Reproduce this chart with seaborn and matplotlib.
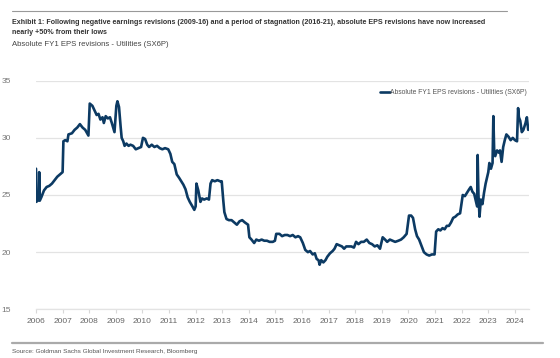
import matplotlib
matplotlib.use("Agg")
import matplotlib.pyplot as plt
import seaborn as sns
import pandas as pd
from matplotlib.lines import Line2D

years = [2006.00, 2006.01, 2006.06, 2006.10, 2006.12, 2006.14, 2006.20, 2006.30, 2006.40, 2006.50,
         2006.60, 2006.70, 2006.80, 2006.95, 2007.00, 2007.03, 2007.10, 2007.18, 2007.22, 2007.35,
         2007.45, 2007.55, 2007.65, 2007.75, 2007.85, 2007.97, 2008.02, 2008.12, 2008.20, 2008.28,
         2008.35, 2008.42, 2008.50, 2008.55, 2008.62, 2008.70, 2008.78, 2008.85, 2008.95, 2009.02,
         2009.06, 2009.12, 2009.18, 2009.22, 2009.28, 2009.33, 2009.40, 2009.48, 2009.55, 2009.65,
         2009.75, 2009.85, 2009.95, 2010.02, 2010.10, 2010.18, 2010.25, 2010.35, 2010.45, 2010.55,
         2010.65, 2010.75, 2010.85, 2010.97, 2011.05, 2011.12, 2011.20, 2011.29, 2011.38, 2011.46,
         2011.54, 2011.62, 2011.70, 2011.78, 2011.88, 2011.95, 2012.00, 2012.03, 2012.10, 2012.18,
         2012.24, 2012.32, 2012.42, 2012.50, 2012.56, 2012.62, 2012.72, 2012.82, 2012.92, 2012.98,
         2013.04, 2013.08, 2013.16, 2013.25, 2013.35, 2013.45, 2013.55, 2013.65, 2013.75, 2013.85,
         2013.97, 2014.02, 2014.10, 2014.20, 2014.28, 2014.38, 2014.48, 2014.58, 2014.68, 2014.78,
         2014.90, 2014.98, 2015.03, 2015.15, 2015.25, 2015.35, 2015.45, 2015.55, 2015.65, 2015.75,
         2015.85, 2015.93, 2016.03, 2016.12, 2016.22, 2016.30, 2016.40, 2016.48, 2016.55, 2016.62,
         2016.66, 2016.72, 2016.80, 2016.88, 2016.95, 2017.05, 2017.15, 2017.22, 2017.30, 2017.40,
         2017.50, 2017.58, 2017.66, 2017.75, 2017.85, 2017.95, 2018.03, 2018.12, 2018.22, 2018.32,
         2018.43, 2018.53, 2018.63, 2018.73, 2018.83, 2018.93, 2019.03, 2019.12, 2019.20, 2019.30,
         2019.40, 2019.50, 2019.62, 2019.72, 2019.82, 2019.93, 2020.02, 2020.10, 2020.17, 2020.25,
         2020.32, 2020.40, 2020.50, 2020.58, 2020.68, 2020.78, 2020.88, 2020.98, 2021.04, 2021.12,
         2021.20, 2021.28, 2021.36, 2021.44, 2021.52, 2021.60, 2021.68, 2021.76, 2021.85, 2021.94,
         2022.04, 2022.12, 2022.20, 2022.28, 2022.34, 2022.40, 2022.47, 2022.53, 2022.58, 2022.60,
         2022.63, 2022.67, 2022.72, 2022.78, 2022.84, 2022.90, 2022.95, 2023.00, 2023.04, 2023.10,
         2023.16, 2023.19, 2023.22, 2023.26, 2023.33, 2023.40, 2023.44, 2023.50, 2023.56, 2023.62,
         2023.68, 2023.76, 2023.84, 2023.92, 2024.00, 2024.08, 2024.12, 2024.15, 2024.20, 2024.26,
         2024.32, 2024.40, 2024.45, 2024.50]

eps_revisions = [27.3, 24.4, 24.5, 24.6, 27.0, 24.5, 24.8, 25.4, 25.7, 25.8,
                 26.0, 26.3, 26.6, 26.9, 27.0, 29.7, 29.8, 29.7, 30.3, 30.4,
                 30.7, 30.9, 31.2, 30.9, 30.7, 30.2, 33.0, 32.8, 32.4, 32.0,
                 32.1, 31.6, 31.8, 31.3, 31.9, 31.7, 31.8, 31.3, 30.5, 32.8,
                 33.2, 32.7, 31.0, 30.0, 29.7, 29.3, 29.5, 29.3, 29.4, 29.3,
                 29.0, 29.1, 29.2, 30.0, 29.9, 29.4, 29.2, 29.4, 29.2, 29.3,
                 29.1, 29.0, 29.1, 29.0, 28.6, 27.9, 27.7, 26.8, 26.5, 26.2,
                 25.9, 25.5, 24.8, 24.4, 24.0, 23.7, 24.0, 26.0, 25.4, 24.4,
                 24.7, 24.6, 24.7, 24.6, 26.0, 26.3, 26.2, 26.3, 26.2, 26.2,
                 24.5, 23.5, 22.9, 22.8, 22.8, 22.6, 22.4, 22.7, 22.8, 22.6,
                 22.4, 21.3, 21.1, 20.8, 21.1, 21.0, 21.1, 21.0, 21.0, 20.9,
                 20.9, 21.0, 21.6, 21.6, 21.4, 21.5, 21.5, 21.4, 21.5, 21.3,
                 21.4, 21.3, 20.8, 20.2, 20.0, 20.1, 19.8, 19.9, 19.4, 19.3,
                 18.9, 19.3, 19.1, 19.3, 19.6, 19.9, 20.1, 20.3, 20.7, 20.6,
                 20.5, 20.3, 20.5, 20.5, 20.5, 20.4, 20.9, 20.7, 20.9, 20.9,
                 21.1, 20.8, 20.7, 20.5, 20.6, 20.3, 21.3, 21.1, 20.9, 21.1,
                 21.0, 20.9, 21.0, 21.1, 21.3, 21.6, 23.2, 23.2, 23.0, 22.0,
                 21.4, 21.1, 20.5, 20.0, 19.8, 19.7, 19.8, 19.8, 21.8, 22.0,
                 21.9, 22.1, 22.0, 22.3, 22.3, 22.6, 23.0, 23.1, 23.3, 23.4,
                 25.0, 24.9, 25.2, 25.5, 25.7, 25.3, 25.1, 24.5, 24.0, 28.5,
                 25.0, 23.1, 24.6, 24.2, 25.2, 26.0, 26.5, 27.0, 27.8, 27.3,
                 27.8, 31.9, 29.0, 28.4, 28.9, 28.7, 28.9, 27.9, 29.2, 29.8,
                 30.3, 30.1, 29.8, 30.0, 29.8, 29.7, 32.6, 31.8, 31.5, 30.5,
                 30.7, 31.3, 31.8, 30.7]

year_ticks = list(range(2006, 2025))
y_ticks = [15, 20, 25, 30, 35]

series_name = "Absolute FY1 EPS revisions - Utilities (SX6P)"
title_line1 = ("Exhibit 1: Following negative earnings revisions (2009-16) and a period of stagnation (2016-21), "
               "absolute EPS revisions have now increased")
title_line2 = "nearly +50% from their lows"
subtitle_text = "Absolute FY1 EPS revisions - Utilities (SX6P)"
source_text = "Source: Goldman Sachs Global Investment Research, Bloomberg"

sns.set_theme(style="white")
plt.rcParams["font.family"] = ["Liberation Sans", "DejaVu Sans"]

W, H = 560, 358
fig = plt.figure(figsize=(W / 100, H / 100), dpi=100)
ax = fig.add_axes([36 / W, 1 - 309.3 / H, (529 - 36) / W, (309.3 - 80.7) / H])

df = pd.DataFrame({"year": years, "value": eps_revisions})
navy = "#0c3a63"
sns.lineplot(data=df, x="year", y="value", ax=ax, color=navy, linewidth=1.9, legend=False)

ax.set_xlim(2006, 2024.53)
ax.set_ylim(15, 35)
ax.set_xticks(year_ticks)
ax.set_xticklabels([str(y) for y in year_ticks])
ax.set_yticks(y_ticks)
ax.set_xlabel("")
ax.set_ylabel("")
ax.grid(axis="y", color="#e3e3e3", linewidth=0.9)
ax.set_axisbelow(True)
for side in ["top", "right", "left"]:
    ax.spines[side].set_visible(False)
ax.spines["bottom"].set_color("#e3e3e3")
ax.spines["bottom"].set_linewidth(0.9)
ax.tick_params(axis="x", which="both", bottom=True, length=3, width=0.8, color="#d8d8d8",
               labelsize=6.0, labelcolor="#666666", pad=3)
ax.tick_params(axis="y", left=False, labelsize=6.0, labelcolor="#777777", pad=12)

handle = Line2D([0], [0], color=navy, linewidth=1.9)
leg = ax.legend([handle], [series_name], loc="center right",
                bbox_to_anchor=(527 / W, 1 - 93 / H), bbox_transform=fig.transFigure,
                frameon=False, handlelength=1.5, handletextpad=0.0, fontsize=4.9,
                borderpad=0.0, borderaxespad=0.0)
for t in leg.get_texts():
    t.set_color("#555555")

fig.add_artist(Line2D([12 / W, 507 / W], [1 - 11 / H, 1 - 11 / H], color="#999999", linewidth=0.8))
fig.text(12 / W, 1 - 22 / H, title_line1, fontsize=5.1, fontweight="bold",
         color="#333333", va="center", ha="left")
fig.text(12 / W, 1 - 33 / H, title_line2, fontsize=5.1, fontweight="bold",
         color="#333333", va="center", ha="left")
fig.text(12 / W, 1 - 45 / H, subtitle_text, fontsize=5.6, color="#444444",
         va="center", ha="left")
fig.add_artist(Line2D([12 / W, 543 / W], [1 - 343 / H, 1 - 343 / H], color="#aaaaaa", linewidth=1.6))
fig.text(12 / W, 1 - 351 / H, source_text, fontsize=4.6, color="#555555",
         va="center", ha="left")

fig.savefig("out.png", dpi=100)
